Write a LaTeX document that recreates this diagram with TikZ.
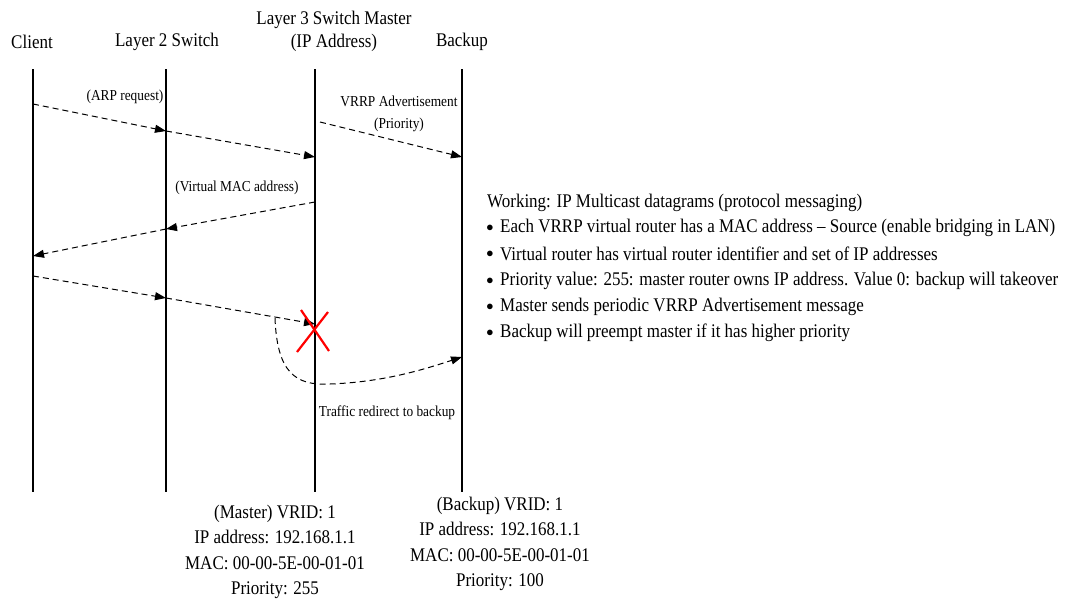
\documentclass[tikz,border=0pt]{standalone}
\usepackage{fontspec}
\setmainfont{Liberation Serif}[FakeStretch=0.88]
\usetikzlibrary{arrows.meta}

\tikzset{
  lifeline/.style={line width=2pt},
  msg/.style={line width=1pt, dash pattern=on 6pt off 4pt,
    -{Triangle[length=11pt,width=8pt]}},
  head/.style={font=\fontsize{19.3}{23}\selectfont, align=center, inner sep=0pt},
  note/.style={font=\fontsize{15.2}{22}\selectfont, align=center, inner sep=0pt},
  info/.style={font=\fontsize{19.3}{25.5}\selectfont, align=center, inner sep=0pt},
  item/.style={font=\fontsize{19.3}{22}\selectfont, anchor=west, inner sep=0pt},
  dot/.style={font=\fontsize{14}{14}\selectfont, inner sep=0pt},
  cross/.style={red, line width=2.2pt},
}

\begin{document}
\begin{tikzpicture}[x=1pt,y=-1pt]
\useasboundingbox (0,0) rectangle (1065,605);

% headers
\node[head] (client) at (32,42) {Client};
\node[head] (sw2) at (167,42) {Layer 2 Switch};
\node[head] (master) at (334,31) {Layer 3 Switch Master\\(IP Address)};
\node[head] (backup) at (462,42) {Backup};

% lifelines
\coordinate (cT) at (33,69);  \coordinate (cB) at (33,492);
\coordinate (sT) at (166,69); \coordinate (sB) at (166,492);
\coordinate (mT) at (315,69); \coordinate (mB) at (315,492);
\coordinate (bT) at (462,69); \coordinate (bB) at (462,492);
\draw[lifeline] (cT) -- (cB);
\draw[lifeline] (sT) -- (sB);
\draw[lifeline] (mT) -- (mB);
\draw[lifeline] (bT) -- (bB);

% ARP request
\coordinate (c1) at (33,104);
\coordinate (s1) at (166,131);
\coordinate (m1) at (315,157);
\draw[msg] (c1) -- (s1);
\draw[msg] (s1) -- (m1);
\node[note] (arp) at (125,97) {(ARP request)};

% advertisement to backup
\coordinate (m2) at (320,122);
\coordinate (b2) at (462,157);
\draw[msg] (m2) -- (b2);
\node[note] (adv) at (399,114) {VRRP Advertisement\\(Priority)};

% virtual MAC reply
\coordinate (m3) at (315,202);
\coordinate (s3) at (166,229);
\coordinate (c3) at (33,256);
\draw[msg] (m3) -- (s3);
\draw[msg] (s3) -- (c3);
\node[note] (vmac) at (237,188) {(Virtual MAC address)};

% traffic to failed master
\coordinate (c4) at (33,276);
\coordinate (s4) at (166,298);
\coordinate (m4) at (315,324);
\draw[msg] (c4) -- (s4);
\draw[msg] (s4) -- (m4);
\draw[cross] (301,310) -- (329,351);
\draw[cross] (328,312) -- (297,352);

% redirect
\coordinate (rd) at (275,318);
\coordinate (b5) at (462,357);
\draw[msg] (rd) .. controls (277,372) and (295,386) .. (330,384)
  .. controls (385,382) and (425,369) .. (b5);
\node[note] (redir) at (387,413) {Traffic redirect to backup};

% router details
\node[info] (minfo) at (275,552) {(Master) VRID: 1\\IP address: 192.168.1.1\\MAC: 00-00-5E-00-01-01\\Priority: 255};
\node[info] (binfo) at (500,544) {(Backup) VRID: 1\\IP address: 192.168.1.1\\MAC: 00-00-5E-00-01-01\\Priority: 100};

% working notes
\node[item] (work) at (487,203) {Working: IP Multicast datagrams (protocol messaging)};
\foreach \y/\t [count=\i] in {
  228/{Each VRRP virtual router has a MAC address -- Source (enable bridging in LAN)},
  254/{Virtual router has virtual router identifier and set of IP addresses},
  281/{Priority value: 255: master router owns IP address. Value 0: backup will takeover},
  307/{Master sends periodic VRRP Advertisement message},
  333/{Backup will preempt master if it has higher priority}}
{
  \node[dot] (dot\i) at (490,\y) {$\bullet$};
  \node[item] (item\i) at (500,\y) {\t};
}
\end{tikzpicture}
\end{document}
